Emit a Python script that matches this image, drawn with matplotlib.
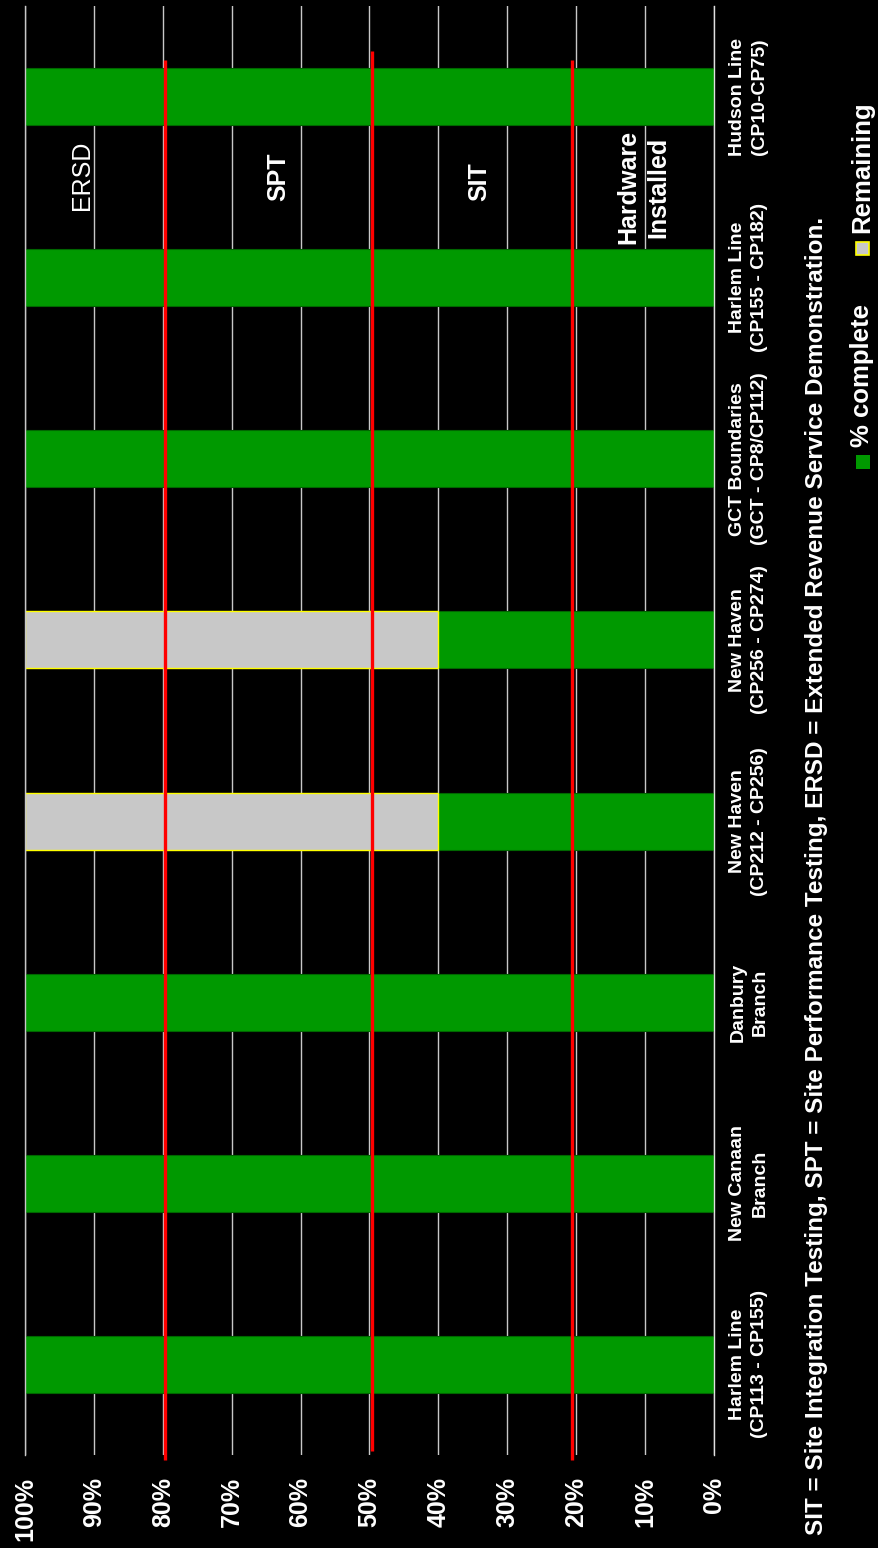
import matplotlib
matplotlib.use("Agg")
import matplotlib.pyplot as plt
from matplotlib.patches import Rectangle

plt.rcParams['font.family'] = ['Liberation Sans', 'DejaVu Sans']

# data
segments = ['Harlem Line\n(CP113 - CP155)', 'New Canaan\nBranch', 'Danbury\nBranch',
            'New Haven\n(CP212 - CP256)', 'New Haven\n(CP256 - CP274)',
            'GCT Boundaries\n(GCT - CP8/CP112)', 'Harlem Line\n(CP155 - CP182)',
            'Hudson Line\n(CP10-CP75)']
pct_complete = [100, 100, 100, 40, 40, 100, 100, 100]
pct_remaining = [0, 0, 0, 60, 60, 0, 0, 0]
pct_ticks = [0, 10, 20, 30, 40, 50, 60, 70, 80, 90, 100]

# milestone lines (red) and their labels
milestone_pct = [20.65, 49.6, 79.7]
milestone_top = [7.20, 7.25, 7.20]
milestone_bottom = [-0.53, -0.48, -0.53]
stage_names = ['Hardware\nInstalled', 'SIT', 'SPT', 'ERSD']
stage_x = [10.2, 34.1, 63.3, 91.7]
stage_y = [6.50, 6.53, 6.555, 6.566]
stage_bold = [True, True, True, False]

note = ('SIT = Site Integration Testing, SPT = Site Performance Testing, '
        'ERSD = Extended Revenue Service Demonstration.')

W, H = 879, 1548
fig = plt.figure(figsize=(W / 100, H / 100), dpi=100, facecolor='black')
ax = fig.add_axes([25 / W, 1 - 1455 / H, (714 - 25) / W, (1455 - 6) / H])
ax.set_facecolor('black')

y = list(range(len(segments)))
ax.barh(y, pct_complete, height=0.315, color='#009900', edgecolor='#006600',
        linewidth=0.8, zorder=2)
rem_y = [i for i in y if pct_remaining[i] > 0]
ax.barh(rem_y, [pct_remaining[i] for i in rem_y], left=[pct_complete[i] for i in rem_y],
        height=0.315, color='#C8C8C8', edgecolor='#FFFF00', linewidth=1.0, zorder=2)

for x, t, b in zip(milestone_pct, milestone_top, milestone_bottom):
    ax.plot([x, x], [b, t], color='#FF0000', lw=2.4, clip_on=False, zorder=4,
            solid_capstyle='butt')

for s, x, yy, bold in zip(stage_names, stage_x, stage_y, stage_bold):
    ax.text(x, yy, s, rotation=90, ha='center', va='center', fontsize=18,
            color='white', fontweight='bold' if bold else 'normal',
            multialignment='center', linespacing=1.32, zorder=5)

ax.set_xlim(100, 0)
ax.set_ylim(-0.5, 7.5)
ax.set_xticks(pct_ticks)
ax.set_xticklabels([f'{v}%' for v in pct_ticks], rotation=90, fontsize=18,
                   fontweight='bold', color='white')
ax.tick_params(axis='x', length=0, pad=16)

ax.yaxis.tick_right()
ax.set_yticks(y)
ax.set_yticklabels(segments, rotation=90, fontsize=14, fontweight='bold',
                   color='white', va='center', ha='left', multialignment='center',
                   linespacing=1.39)
ax.tick_params(axis='y', length=0, pad=11)

ax.xaxis.grid(True, color='#C8C8C8', lw=1.0)
ax.set_axisbelow(True)
for side in ['top', 'bottom']:
    ax.spines[side].set_visible(False)
for side in ['left', 'right']:
    ax.spines[side].set_color('#C8C8C8')
    ax.spines[side].set_linewidth(1.0)
ax.spines['right'].set_color('#E0E0E0')

fig.text(817 / W, 1 - 1535 / H, note, rotation=90, ha='center', va='bottom',
         fontsize=17.5, fontweight='bold', color='white')

# legend, drawn by hand because it is rotated
fig.patches.append(Rectangle((856 / W, 1 - 469 / H), 14 / W, 14 / H, transform=fig.transFigure,
                             facecolor='#009900', edgecolor='none'))
fig.text(862 / W, 1 - 447 / H, '% complete', rotation=90, ha='center', va='bottom',
         fontsize=18.5, fontweight='bold', color='white')
fig.patches.append(Rectangle((856 / W, 1 - 255 / H), 13 / W, 13 / H, transform=fig.transFigure,
                             facecolor='#C8C8C8', edgecolor='#FFFF00', linewidth=1.2))
fig.text(862 / W, 1 - 233 / H, 'Remaining', rotation=90, ha='center', va='bottom',
         fontsize=18.5, fontweight='bold', color='white')

fig.savefig('out.png', dpi=100, facecolor='black')
